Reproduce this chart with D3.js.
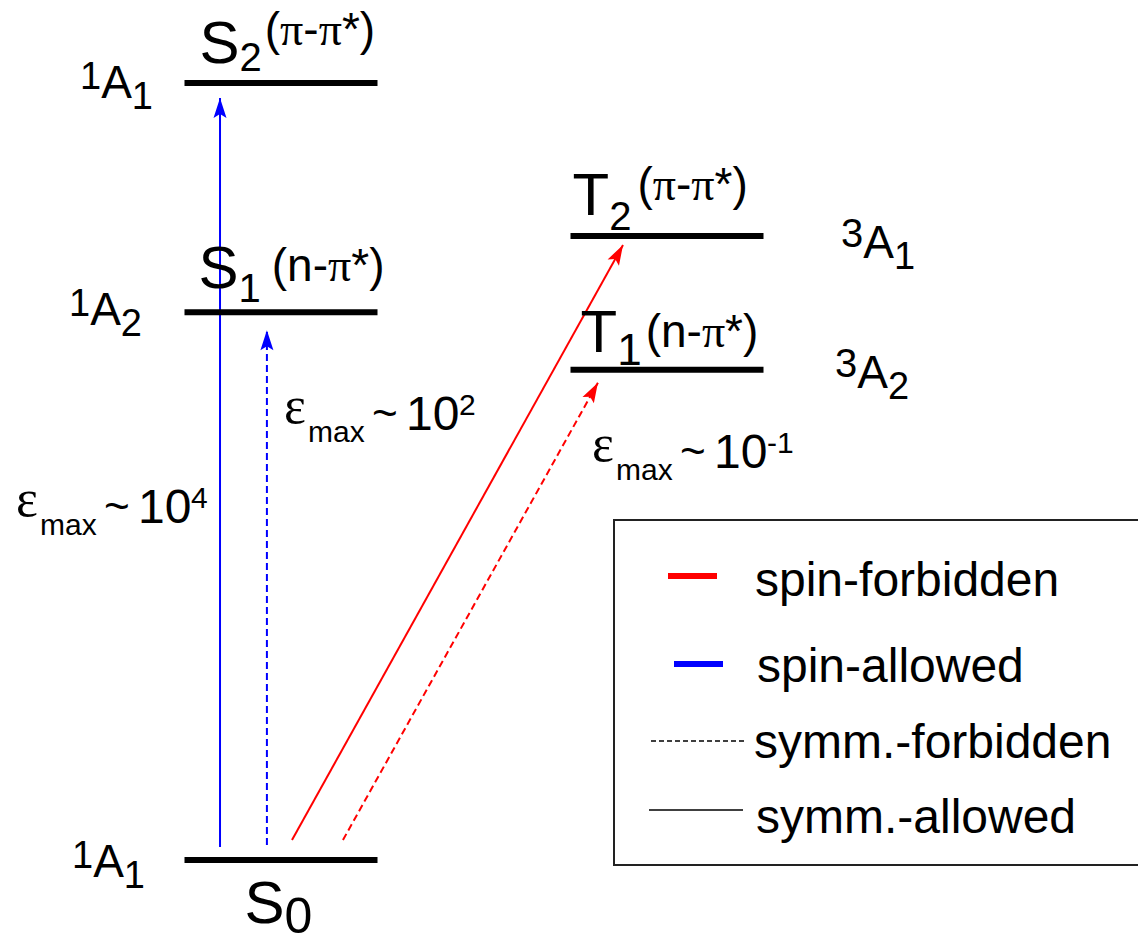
<!DOCTYPE html>
<html>
<head>
<meta charset="utf-8">
<script src="https://cdn.jsdelivr.net/npm/d3@7"></script>
<style>
  html, body { margin: 0; padding: 0; background: #fff; }
  svg { display: block; }
  text { font-family: "Liberation Sans", Arial, Helvetica, sans-serif; fill: #000; }
</style>
</head>
<body>
<svg id="chart" width="1138" height="944"></svg>
<script>
// energy levels, arbitrary units (S0 = 0, S2 = 100)
const levelNames   = ['S0', 'S1', 'S2', 'T1', 'T2'];
const levelEnergy  = [0, 70.5, 100, 63.1, 80.3];
const levelMult    = ['singlet', 'singlet', 'singlet', 'triplet', 'triplet'];
const levelLetter  = ['S', 'S', 'S', 'T', 'T'];
const levelIndex   = ['0', '1', '2', '1', '2'];
const levelOrbital = ['', '(n-π*)', '(π-π*)', '(n-π*)', '(π-π*)'];
const symSpin      = ['1', '1', '1', '3', '3'];
const symIrrepSub  = ['1', '2', '1', '2', '1'];

// absorptions out of S0
const transTo     = ['S2', 'S1', 'T2', 'T1'];
const transSpin   = ['allowed', 'allowed', 'forbidden', 'forbidden'];
const transSymm   = ['allowed', 'forbidden', 'allowed', 'forbidden'];
const transEpsExp = ['4', '2', '', '-1'];

const legendLabels = ['spin-forbidden', 'spin-allowed', 'symm.-forbidden', 'symm.-allowed'];

(function () {
  const svg = d3.select('#chart');
  const levelW = 193;

  const y = d3.scaleLinear().domain([0, 100]).range([860, 83]);
  const col = d3.scalePoint().domain(['singlet', 'triplet']).range([281, 667]);
  const spinColor = { allowed: '#0000ff', forbidden: '#ff0000' };
  const serif = '"Liberation Serif", "Times New Roman", serif';

  const levels = levelNames.map((n, i) => ({
    name: n, e: levelEnergy[i], mult: levelMult[i], letter: levelLetter[i],
    idx: levelIndex[i], orb: levelOrbital[i], spin: symSpin[i], irr: symIrrepSub[i]
  }));
  const byName = {};
  levels.forEach(l => { l.x0 = col(l.mult) - levelW / 2; l.y = y(l.e); byName[l.name] = l; });

  // layout of the labels / arrows (not data)
  const stateLab = {
    S0: { dx: 60, dy: 63, sub: 50, sb: 10 },
    S1: { dx: 14, dy: -24, sub: 40, sb: 14, ob: -7, odx: 11 },
    S2: { dx: 15, dy: -20, sub: 40, sb: 8, ob: -18, odx: 3 },
    T1: { dx: 10, dy: -18, sub: 44, sb: 13, ob: -5, odx: 4 },
    T2: { dx: 2, dy: -21, sub: 40, sb: 15, ob: -15, odx: 6 }
  };
  const symLab = {
    S0: { x: 72, dy: 17 }, S1: { x: 69, dy: 13 }, S2: { x: 80, dy: 15 },
    T1: { x: 835, dy: 18 }, T2: { x: 841, dy: 22 }
  };
  const footFrac = [0.184, 0.427, 0.557, 0.821];
  const tipFrac  = [0.184, 0.427, 0.272, 0.142];
  const footGap  = [13, 15, 20, 20];
  const tipGap   = [15, 18, 9, 13];
  const epsPos   = [{ x0: 16, b: 523 }, { x0: 284, b: 430 }, null, { x0: 592, b: 468 }];

  // rich text: parts {t, size, b (baseline offset), dx, x}
  function richText(g, x, yy, parts) {
    const t = g.append('text').attr('x', x).attr('y', yy);
    let prevB = 0;
    parts.forEach(p => {
      const b = p.b || 0;
      p.t.split(/([πε])/).filter(s => s).forEach((s, i) => {
        const ts = t.append('tspan').text(s).attr('font-size', p.size);
        if (/[πε]/.test(s)) ts.attr('font-family', serif);
        if (i === 0) {
          if (p.x !== undefined) ts.attr('x', p.x);
          ts.attr('dy', b - prevB);
          if (p.dx) ts.attr('dx', p.dx);
        }
      });
      prevB = b;
    });
    return t;
  }

  // arrow markers
  const defs = svg.append('defs');
  Object.entries(spinColor).forEach(([k, c]) => {
    defs.append('marker')
      .attr('id', 'arrow-' + k)
      .attr('viewBox', '-21 -7 22 14')
      .attr('refX', 0).attr('refY', 0)
      .attr('markerWidth', 22).attr('markerHeight', 14)
      .attr('markerUnits', 'userSpaceOnUse')
      .attr('orient', 'auto')
      .append('path')
      .attr('d', 'M0,0 L-20,-6.5 L-16,0 L-20,6.5 Z')
      .attr('fill', c);
  });

  // transitions
  const trans = transTo.map((to, i) => {
    const from = byName['S0'], tgt = byName[to];
    return {
      x1: from.x0 + footFrac[i] * levelW, y1: from.y - footGap[i],
      x2: tgt.x0 + tipFrac[i] * levelW, y2: tgt.y + tipGap[i],
      spin: transSpin[i], symm: transSymm[i], exp: transEpsExp[i], i
    };
  });

  svg.append('g').selectAll('line')
    .data(trans)
    .join('line')
    .attr('x1', d => d.x1).attr('y1', d => d.y1)
    .attr('x2', d => d.x2).attr('y2', d => d.y2)
    .attr('stroke', d => spinColor[d.spin])
    .attr('stroke-width', 2)
    .attr('stroke-dasharray', d => d.symm === 'forbidden' ? '7,4' : null)
    .attr('marker-end', d => 'url(#arrow-' + d.spin + ')');

  // levels
  svg.append('g').selectAll('line')
    .data(levels)
    .join('line')
    .attr('x1', d => d.x0).attr('x2', d => d.x0 + levelW)
    .attr('y1', d => d.y).attr('y2', d => d.y)
    .attr('stroke', '#000')
    .attr('stroke-width', 6);

  // state labels
  const gl = svg.append('g');
  levels.forEach(l => {
    const s = stateLab[l.name];
    const parts = [
      { t: l.letter, size: 60 },
      { t: l.idx, size: s.sub, b: s.sb }
    ];
    if (l.orb) parts.push({ t: l.orb, size: 46, b: s.ob, dx: s.odx });
    richText(gl, l.x0 + s.dx, l.y + s.dy, parts);

    const m = symLab[l.name];
    richText(gl, m.x, l.y + m.dy, [
      { t: l.spin, size: l.mult === 'triplet' ? 40 : 38, b: l.mult === 'triplet' ? -11 : -9 },
      { t: 'A', size: 46, b: 0 },
      { t: l.irr, size: 38, b: 11 }
    ]);
  });

  // extinction coefficients
  trans.forEach((d, i) => {
    const p = epsPos[i];
    if (!p || !d.exp) return;
    richText(gl, p.x0, p.b - 7, [
      { t: 'ε', size: 52, b: 0 },
      { t: 'max', size: 30, b: 19, x: p.x0 + 24 },
      { t: '~', size: 44, b: 5, x: p.x0 + 88 },
      { t: '10', size: 48, b: 7, x: p.x0 + 122 },
      { t: d.exp, size: 30, b: -8, x: p.x0 + 175 }
    ]);
  });

  // legend
  const lg = svg.append('g');
  lg.append('rect')
    .attr('x', 614).attr('y', 520)
    .attr('width', 600).attr('height', 345)
    .attr('fill', 'none')
    .attr('stroke', '#222')
    .attr('stroke-width', 2);

  const legendSamples = [
    { x1: 668, x2: 717, y: 576, color: spinColor.forbidden, w: 6, dash: null },
    { x1: 674, x2: 723, y: 664, color: spinColor.allowed, w: 6, dash: null },
    { x1: 651, x2: 746, y: 741, color: '#000', w: 1.3, dash: '5,3' },
    { x1: 649, x2: 743, y: 810, color: '#000', w: 1.5, dash: null }
  ];
  const legendText = [{ x: 755, y: 596 }, { x: 757, y: 682 }, { x: 754, y: 758 }, { x: 756, y: 833 }];

  lg.selectAll('line')
    .data(legendSamples)
    .join('line')
    .attr('x1', d => d.x1).attr('x2', d => d.x2)
    .attr('y1', d => d.y).attr('y2', d => d.y)
    .attr('stroke', d => d.color)
    .attr('stroke-width', d => d.w)
    .attr('stroke-dasharray', d => d.dash);

  lg.selectAll('text')
    .data(legendLabels)
    .join('text')
    .attr('x', (d, i) => legendText[i].x)
    .attr('y', (d, i) => legendText[i].y)
    .attr('font-size', 48)
    .text(d => d);
})();
</script>
</body>
</html>
